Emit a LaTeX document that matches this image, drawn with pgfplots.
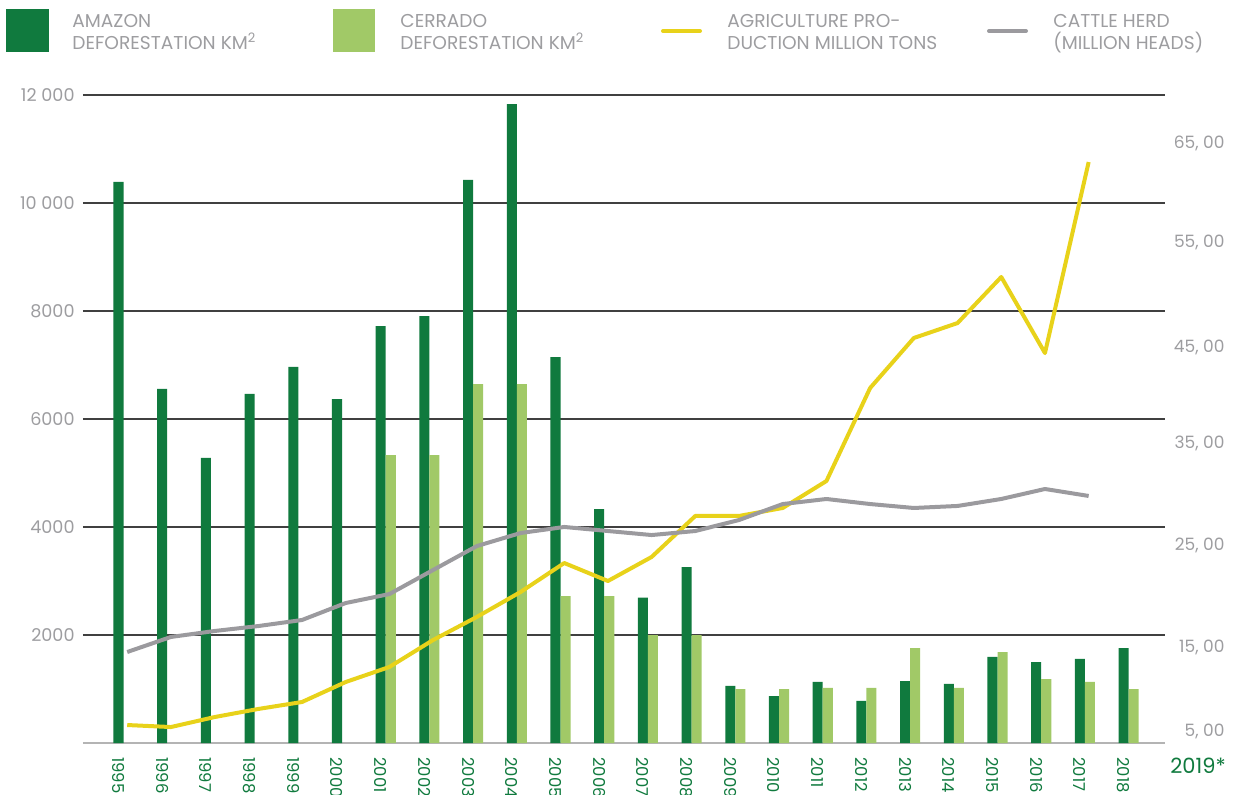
\documentclass[border=0pt]{standalone}
\usepackage{fontspec}
\setmainfont{Poppins}
\usepackage{pgfplots}
\usepackage{pgfplotstable}
\pgfplotsset{compat=1.18}
\definecolor{amz}{HTML}{107A3E}
\definecolor{cer}{HTML}{A1C967}
\definecolor{agr}{HTML}{E8D21A}
\definecolor{cat}{HTML}{9B9A9E}
\definecolor{txt}{HTML}{9D9DA0}
\definecolor{gridc}{HTML}{404040}
\definecolor{basec}{HTML}{B4B4B4}

\pgfplotstableread{
k v
0 10390
1 6556
2 5278
3 6463
4 6963
5 6370
6 7722
7 7907
8 10426
9 11833
10 7148
11 4333
12 2690
13 3259
14 1056
15 870
16 1130
17 778
18 1148
19 1093
20 1593
21 1500
22 1556
23 1759
}\amazondata

\pgfplotstableread{
k v
6 5333
7 5333
8 6648
9 6648
10 2722
11 2722
12 2000
13 2000
14 1000
15 1000
16 1019
17 1019
18 1759
19 1019
20 1685
21 1185
22 1130
23 1000
}\cerradodata

\pgfplotstableread{
k agri cattle
0 7.37 14.60
1 7.17 16.09
2 8.16 16.68
3 8.96 17.17
4 9.65 17.77
5 11.63 19.45
6 13.12 20.34
7 15.79 22.72
8 18.07 25.09
9 20.54 26.38
10 23.41 26.98
11 21.63 26.58
12 24.01 26.18
13 28.07 26.58
14 28.07 27.67
15 28.86 29.25
16 31.53 29.75
17 40.74 29.25
18 45.69 28.86
19 47.17 29.06
20 51.73 29.75
21 44.20 30.74
22 63.11 30.05
}\linedata

\begin{document}
\begin{tikzpicture}[x=1pt,y=1pt]
\useasboundingbox (0,0) rectangle (621.5,397);
\begin{axis}[
  at={(41.5pt,25.5pt)}, anchor=south west,
  scale only axis, width=541pt, height=324pt,
  xmin=-0.812, xmax=23.947, ymin=0, ymax=12000,
  axis line style={draw=none},
  major tick length=0pt,
  scaled y ticks=false,
  xtick={0,1,2,3,4,5,6,7,8,9,10,11,12,13,14,15,16,17,18,19,20,21,22,23},
  xticklabels={1995,1996,1997,1998,1999,2000,2001,2002,2003,2004,2005,2006,2007,2008,2009,2010,2011,2012,2013,2014,2015,2016,2017,2018},
  xticklabel style={rotate=-90, anchor=west, inner sep=0pt, text=amz, font=\fontsize{8.2}{10}\selectfont},
  xticklabel shift=7pt,
  ytick={2000,4000,6000,8000,10000,12000},
  yticklabels={2000,4000,6000,8000,10 000,12 000},
  yticklabel style={text=txt, inner sep=0pt, xshift=-4pt, font=\fontsize{8.8}{10}\selectfont},
  ymajorgrids, grid style={gridc, line width=0.7pt},
  extra y ticks={0}, extra y tick labels={},
  extra y tick style={grid style={basec, line width=1.1pt}},
]
\addplot[ybar, bar width=0.23, bar shift=0, fill=amz, draw=none] table[x=k, y=v] {\amazondata};
\addplot[ybar, bar width=0.23, bar shift=0.23, fill=cer, draw=none] table[x=k, y=v] {\cerradodata};
\end{axis}
\begin{axis}[
  at={(41.5pt,25.5pt)}, anchor=south west,
  scale only axis, width=541pt, height=324pt,
  xmin=-0.812, xmax=23.947, ymin=5.59, ymax=69.75,
  axis line style={draw=none},
  major tick length=0pt,
  xtick=\empty,
  ytick={6.78,15,25.1,35.2,44.8,55.1,65},
  yticklabels={{5, 00},{15, 00},{25, 00},{35, 00},{45, 00},{55, 00},{65, 00}},
  yticklabel pos=right,
  yticklabel style={text=txt, anchor=east, inner sep=0pt, xshift=30pt, font=\fontsize{8.5}{10}\selectfont},
]
\addplot[agr, line width=2pt, line join=round] table[x expr=\thisrow{k}+0.2, y=agri] {\linedata};
\addplot[cat, line width=2pt, line join=round] table[x expr=\thisrow{k}+0.2, y=cattle] {\linedata};
\end{axis}
\begin{scope}[every node/.style={anchor=base west, inner sep=0pt, text=txt, font=\fontsize{9.3}{11}\selectfont}]
\fill[amz] (3,371) rectangle (24.5,392.5);
\node at (36,383) {AMAZON};
\node at (36,372) {DEFORESTATION KM\textsuperscript{2}};
\fill[cer] (166.5,371) rectangle (187.5,392.5);
\node at (200,383) {CERRADO};
\node at (200,372) {DEFORESTATION KM\textsuperscript{2}};
\draw[agr, line width=2pt, line cap=round] (331.5,381.5) -- (350,381.5);
\node at (363.5,383) {AGRICULTURE PRO-};
\node at (363.5,372) {DUCTION MILLION TONS};
\draw[cat, line width=2pt, line cap=round] (494.5,381.5) -- (513,381.5);
\node at (526.5,383) {CATTLE HERD};
\node at (526.5,372) {(MILLION HEADS)};
\end{scope}
\node[anchor=base, inner sep=0pt, text=amz, font=\fontsize{10.5}{12}\selectfont] at (599,10.5) {2019*};
\end{tikzpicture}
\end{document}
